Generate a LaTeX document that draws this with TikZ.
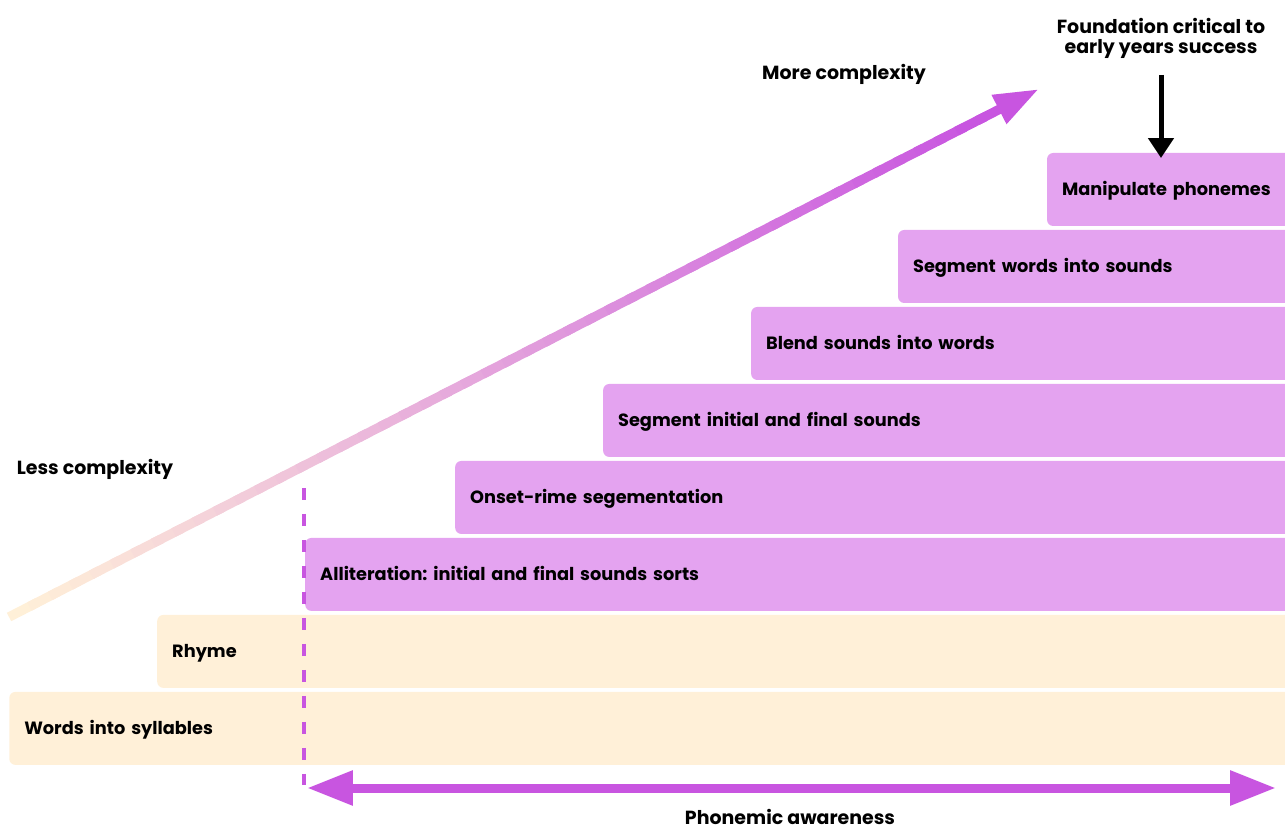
\documentclass[tikz,border=0pt]{standalone}
\usepackage{fontspec}
\setmainfont{Poppins}
\usetikzlibrary{positioning,arrows.meta,calc}
\definecolor{barpurple}{RGB}{228,163,240}
\definecolor{barcream}{RGB}{255,240,216}
\definecolor{arrowpurple}{RGB}{200,85,224}

\begin{document}
\frenchspacing
\begin{tikzpicture}[x=0.02cm,y=-0.02cm,
    bar/.style={rectangle, rounded corners=3.5pt, minimum height=1.46cm, inner xsep=0.3cm, inner ysep=0pt, outer sep=0pt, text height=0.72em, text depth=0pt, align=left, font=\bfseries\fontsize{10.1}{12}\selectfont},
    pbar/.style={bar, fill=barpurple},
    cbar/.style={bar, fill=barcream},
    lbl/.style={font=\bfseries\fontsize{10.8}{11.4}\selectfont, align=center, inner sep=0pt}]
    \useasboundingbox (0,0) rectangle (1285,831);
    \clip (0,0) rectangle (1285,831);
    % staircase of bars, all ending past the right edge
    \node[pbar, anchor=north east, text width=5.06cm] (manip) at (1330,153) {Manipulate phonemes};
    \node[pbar, below=0.08cm of manip.south east, anchor=north east, text width=8.04cm] (segwords) {Segment words into sounds};
    \node[pbar, below=0.08cm of segwords.south east, anchor=north east, text width=10.98cm] (blend) {Blend sounds into words};
    \node[pbar, below=0.08cm of blend.south east, anchor=north east, text width=13.94cm] (seginit) {Segment initial and final sounds};
    \node[pbar, below=0.08cm of seginit.south east, anchor=north east, text width=16.9cm] (onset) {Onset-rime segementation};
    \node[pbar, below=0.08cm of onset.south east, anchor=north east, text width=19.9cm] (allit) {Alliteration: initial and final sounds sorts};
    \node[cbar, below=0.08cm of allit.south east, anchor=north east, text width=22.86cm] (rhyme) {Rhyme};
    \node[cbar, below=0.08cm of rhyme.south east, anchor=north east, text width=25.82cm] (syll) {Words into syllables};
    % labels
    \node[lbl] (moretxt) at (844,74) {More complexity};
    \node[lbl] (lesstxt) at (95,469) {Less complexity};
    \node[lbl] (found) at (1161,38) {Foundation critical to\\early years success};
    \node[lbl] (phon) at (790,817) {Phonemic awareness};
    % black arrow
    \draw[line width=0.1cm, -{Triangle[length=0.4cm,width=0.5cm]}] ([yshift=-0.33cm]found.south) -- ([yshift=-0.1cm]found.south |- manip.north);
    % dashed marker
    \coordinate (dtop) at (304,488);
    \coordinate (dbot) at (304,785);
    \draw[arrowpurple, line width=0.065cm, dash pattern=on 0.25cm off 0.27cm] (dtop) -- (dbot);
    % phonemic awareness span
    \coordinate (pleft) at (307,788);
    \coordinate (pright) at (1276,788);
    \draw[arrowpurple, line width=0.18cm, {Triangle[length=0.92cm,width=0.66cm]}-{Triangle[length=0.92cm,width=0.66cm]}] (pleft) -- (pright);
    % complexity arrow, shaded from cream to purple
    \coordinate (less) at (9,617);
    \coordinate (more) at (1039,89);
    \foreach \i in {0,...,46} {
        \pgfmathtruncatemacro\p{100*\i/46}
        \draw[draw=arrowpurple!\p!barcream, line width=0.19cm] ($(less)!\i/50!(more)$) -- ($(less)!{(\i+1.4)/50}!(more)$);
    }
    \draw[arrowpurple, line width=0.19cm, -{Triangle[length=0.9cm,width=0.6cm]}] ($(less)!0.94!(more)$) -- (more);
\end{tikzpicture}
\end{document}
